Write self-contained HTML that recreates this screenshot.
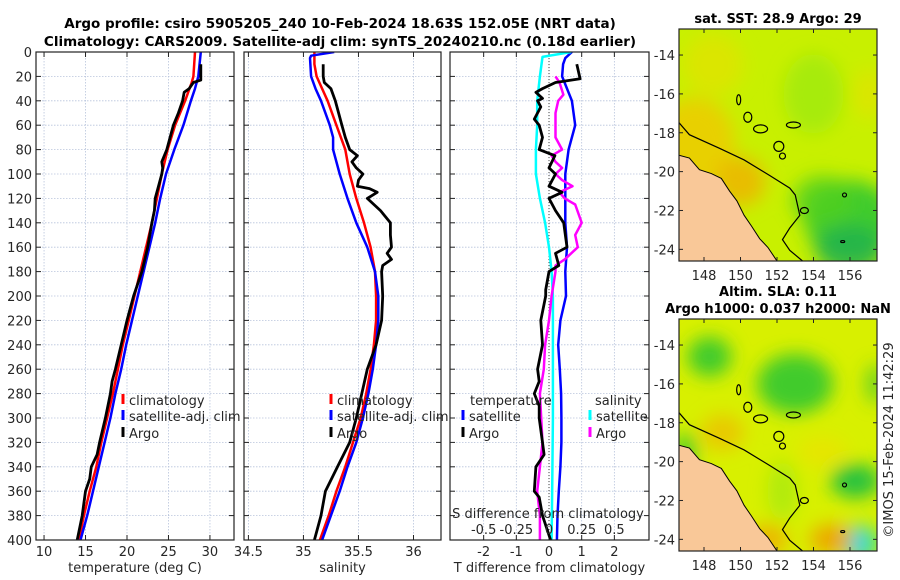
<!DOCTYPE html>
<html><head><meta charset="utf-8">
<style>
html,body{margin:0;padding:0;background:#fff;}
svg{display:block;font-family:"DejaVu Sans","Liberation Sans",sans-serif;}
</style></head>
<body>
<svg id="fig" width="900" height="580" viewBox="0 0 900 580" xmlns="http://www.w3.org/2000/svg">
<defs>
<filter id="blur" x="-50%" y="-50%" width="200%" height="200%"><feGaussianBlur stdDeviation="9"/></filter>
<clipPath id="clipM1"><rect x="679" y="29" width="198" height="232"/></clipPath>
<clipPath id="clipM2"><rect x="679" y="319" width="198" height="232"/></clipPath>
<clipPath id="clipP1"><rect x="36" y="52" width="198" height="488"/></clipPath>
<clipPath id="clipP2"><rect x="244" y="52" width="197" height="488"/></clipPath>
<clipPath id="clipP3"><rect x="450" y="52" width="199" height="488"/></clipPath>
</defs>
<text x="340" y="28" text-anchor="middle" font-size="13.5" font-weight="bold">Argo profile: csiro 5905205_240 10-Feb-2024 18.63S 152.05E (NRT data)</text>
<text x="340" y="46" text-anchor="middle" font-size="13.5" font-weight="bold">Climatology: CARS2009. Satellite-adj clim: synTS_20240210.nc (0.18d earlier)</text>
<g id="root"></g>
</svg>
<script>
// ---------- data ----------
const depthTicks=[0,20,40,60,80,100,120,140,160,180,200,220,240,260,280,300,320,340,360,380,400];
const tempTicks=[10,15,20,25,30];
const salTicks=[34.5,35,35.5,36];
const salTickLabels=["34.5","35","35.5","36"];
const tdiffTicks=[-2,-1,0,1,2];
const sdiffTicks=[-0.5,-0.25,0,0.25,0.5];
const sdiffTickLabels=["-0.5","-0.25","0","0.25","0.5"];

const climTDepth=[0,10,20,25,40,60,80,100,120,140,160,180,200,220,240,260,280,300,320,340,360,380,400];
const climTValue=[28.2,28.1,28.0,27.8,27.0,25.8,24.9,24.2,23.6,23.0,22.3,21.6,20.9,20.2,19.5,18.9,18.3,17.6,16.9,16.3,15.5,14.8,14.2];
const satTDepth=[0,20,30,40,60,80,100,120,140,160,180,200,220,240,260,280,300,320,340,360,380,400];
const satTValue=[28.9,28.6,28.2,27.7,26.8,25.7,24.7,24.0,23.4,22.7,22.0,21.3,20.6,19.9,19.3,18.6,18.0,17.3,16.6,15.9,15.2,14.4];
const argoTDepth=[10,20,23,25,30,33,40,50,60,70,80,90,95,100,110,120,130,140,160,180,200,220,240,260,270,280,300,320,330,340,350,360,380,400];
const argoTValue=[28.9,28.9,28.9,28.0,27.5,26.9,26.7,26.2,25.6,25.2,24.8,24.2,24.3,24.2,23.8,23.4,23.3,23.0,22.5,21.8,20.8,20.0,19.3,18.6,18.2,18.0,17.4,16.7,16.4,15.7,15.5,15.0,14.6,14.0];

const climSDepth=[0,10,20,30,40,60,80,100,120,140,160,180,200,220,240,260,280,300,320,340,360,380,400];
const climSValue=[35.10,35.10,35.12,35.17,35.22,35.30,35.38,35.42,35.48,35.55,35.61,35.65,35.66,35.66,35.64,35.61,35.57,35.52,35.45,35.38,35.30,35.23,35.15];
const satSDepth=[0,3,5,20,30,40,60,70,80,100,120,140,160,180,200,220,240,260,280,300,320,340,360,380,400];
const satSValue=[35.28,35.07,35.06,35.07,35.11,35.16,35.24,35.27,35.27,35.33,35.40,35.48,35.58,35.65,35.68,35.68,35.66,35.63,35.59,35.54,35.48,35.40,35.33,35.25,35.17];
const argoSDepth=[10,20,25,30,40,50,60,70,80,85,90,95,100,105,110,112,115,120,130,140,150,160,165,170,175,180,200,220,240,260,280,300,320,340,360,380,400];
const argoSValue=[35.18,35.18,35.19,35.25,35.29,35.32,35.35,35.38,35.42,35.49,35.44,35.48,35.54,35.50,35.49,35.60,35.67,35.58,35.70,35.79,35.79,35.80,35.76,35.80,35.72,35.71,35.72,35.71,35.66,35.58,35.53,35.48,35.42,35.31,35.20,35.16,35.10];

const satTdDepth=[0,5,10,20,40,60,80,100,120,140,160,180,200,220,240,260,280,300,320,340,360,380,400];
const satTdValue=[0.7,0.5,0.43,0.4,0.7,0.8,0.6,0.5,0.5,0.5,0.55,0.5,0.52,0.35,0.28,0.33,0.37,0.38,0.38,0.35,0.3,0.26,0.24];
const argoTdDepth=[10,22,25,30,33,38,40,45,55,60,70,80,85,95,100,110,115,120,130,140,160,165,175,180,195,200,220,240,260,270,280,290,300,320,330,340,360,365,380,400];
const argoTdValue=[0.85,0.95,0.2,-0.2,-0.4,-0.2,-0.35,-0.25,-0.45,-0.3,-0.2,-0.3,0.18,0.0,0.2,0.0,0.4,0.0,0.2,0.45,0.55,0.2,0.3,0.0,-0.1,-0.1,-0.25,-0.2,-0.35,-0.3,-0.45,-0.3,-0.3,-0.2,-0.15,-0.4,-0.45,-0.3,-0.2,0.05];
const satSdDepth=[0,4,20,40,60,80,100,120,140,160,180,200,250,300,350,400];
const satSdValue=[0.17,-0.05,-0.07,-0.09,-0.09,-0.1,-0.1,-0.07,-0.03,0.0,0.02,0.03,0.03,0.03,0.025,0.02];
const argoSdDepth=[20,25,35,40,50,60,70,80,85,90,95,100,105,110,115,120,125,140,150,160,170,175,180,200,220,240,260,280,300,320,340,360,380,400];
const argoSdValue=[0.05,0.08,0.11,0.07,0.05,0.05,0.05,0.1,0.02,0.05,0.1,0.05,0.1,0.18,0.08,0.12,0.2,0.25,0.2,0.22,0.12,0.05,0.05,0.02,0.0,-0.03,-0.04,-0.07,-0.06,-0.05,-0.07,-0.09,-0.07,-0.07];

const lonTicks=[148,150,152,154,156];
const latTicks=[-14,-16,-18,-20,-22,-24];

// ---------- helpers ----------
const NS="http://www.w3.org/2000/svg";
const root=document.getElementById('root');
function mk(tag,attrs,parent){const e=document.createElementNS(NS,tag);for(const k in attrs)e.setAttribute(k,attrs[k]);(parent||root).appendChild(e);return e;}
const Y0=52,Y1=540;
const yD=d=>Y0+d/400*(Y1-Y0);
function lin(d0,d1,r0,r1){return v=>r0+(v-d0)/(d1-d0)*(r1-r0);}
const xT=lin(9.03,32.9,36,234);
const xS=lin(34.46,36.25,244,441);
const xTd=lin(-3.03,3.06,450,649);
const xSd=v=>xTd(v*4);

function panel(name,x0,x1,xs,ticks,labels,xlabel,clip,yLabels){
  const g=mk('g',{});
  
  
  ticks.forEach(t=>{const l=mk('line',{x1:xs(t),x2:xs(t),y1:Y0,y2:Y1,stroke:'#b8c4dc','stroke-width':0.8,'stroke-dasharray':'1.5,1.5'},g);
    });
  depthTicks.forEach(d=>{const l=mk('line',{x1:x0,x2:x1,y1:yD(d),y2:yD(d),stroke:'#b8c4dc','stroke-width':0.8,'stroke-dasharray':'1.5,1.5'},g);
    
    mk('line',{x1:x0,x2:x0+5,y1:yD(d),y2:yD(d),stroke:'#222'},g);mk('line',{x1:x1-5,x2:x1,y1:yD(d),y2:yD(d),stroke:'#222'},g);});
  ticks.forEach((t,i)=>{mk('line',{x1:xs(t),x2:xs(t),y1:Y1,y2:Y1-5,stroke:'#222'},g);mk('line',{x1:xs(t),x2:xs(t),y1:Y0,y2:Y0+5,stroke:'#222'},g);
    const tx=mk('text',{x:xs(t),y:Y1+16,'text-anchor':'middle','font-size':13,fill:'#262626'},g);tx.textContent=labels[i];
    });
  const xl=mk('text',{x:(x0+x1)/2,y:Y1+32,'text-anchor':'middle','font-size':13,fill:'#262626'},g);xl.textContent=xlabel;
  
  if(yLabels){depthTicks.forEach(d=>{const t=mk('text',{x:x0-4,y:yD(d)+5,'text-anchor':'end','font-size':13,fill:'#262626'},g);t.textContent=d;
    });}
  return g;
}
function series(g,name,xs,vals,deps,color,w,clip){
  const pts=vals.map((v,i)=>xs(v).toFixed(1)+','+yD(deps[i]).toFixed(1)).join(' ');
  const p=mk('polyline',{points:pts,fill:'none',stroke:color,'stroke-width':w,'stroke-linejoin':'round','clip-path':'url(#'+clip+')'},g);
  
  
  return p;
}
function frame(g,x0,x1){const r=mk('rect',{x:x0,y:Y0,width:x1-x0,height:Y1-Y0,fill:'none',stroke:'#222','stroke-width':1.2},g);
  }
function legendEntry(g,name,x,y,color,label){
  const m=mk('rect',{x:x-1.5,y:y-11,width:3,height:10,fill:color},g);
  
  const t=mk('text',{x:x+6,y:y,'font-size':13,fill:'#262626'},g);t.textContent=label;
  
}

const g1=panel('temperature-panel',36,234,xT,tempTicks,tempTicks.map(String),'temperature (deg C)','clipP1',true);
series(g1,'temperature-climatology-line',xT,climTValue,climTDepth,'#f00',2.5,'clipP1');
series(g1,'temperature-satellite-line',xT,satTValue,satTDepth,'#00f',2.5,'clipP1');
series(g1,'temperature-argo-line',xT,argoTValue,argoTDepth,'#000',2.8,'clipP1');
frame(g1,36,234);
legendEntry(g1,'legend-climatology',123,405,'#f00','climatology');
legendEntry(g1,'legend-satellite-adj',123,421,'#00f','satellite-adj. clim');
legendEntry(g1,'legend-argo',123,438,'#000','Argo');

const g2=panel('salinity-panel',244,441,xS,salTicks,salTickLabels,'salinity','clipP2',false);
series(g2,'salinity-climatology-line',xS,climSValue,climSDepth,'#f00',2.5,'clipP2');
series(g2,'salinity-satellite-line',xS,satSValue,satSDepth,'#00f',2.5,'clipP2');
series(g2,'salinity-argo-line',xS,argoSValue,argoSDepth,'#000',2.8,'clipP2');
frame(g2,244,441);
legendEntry(g2,'legend-climatology-2',331,405,'#f00','climatology');
legendEntry(g2,'legend-satellite-adj-2',331,421,'#00f','satellite-adj. clim');
legendEntry(g2,'legend-argo-2',331,438,'#000','Argo');

const g3=panel('difference-panel',450,649,xTd,tdiffTicks,tdiffTicks.map(String),'T difference from climatology','clipP3',false);
const zl=mk('line',{x1:xTd(0),x2:xTd(0),y1:Y0,y2:Y1,stroke:'#444','stroke-width':1,'stroke-dasharray':'1,2'},g3);

series(g3,'tdiff-satellite-line',xTd,satTdValue,satTdDepth,'#00f',2.5,'clipP3');
series(g3,'sdiff-satellite-line',xSd,satSdValue,satSdDepth,'#0ff',2.5,'clipP3');
series(g3,'sdiff-argo-line',xSd,argoSdValue,argoSdDepth,'#f0f',2.5,'clipP3');
series(g3,'tdiff-argo-line',xTd,argoTdValue,argoTdDepth,'#000',2.8,'clipP3');
frame(g3,450,649);
{const t=mk('text',{x:470,y:405,'font-size':13,fill:'#262626'},g3);t.textContent='temperature';
 const s=mk('text',{x:595,y:405,'font-size':13,fill:'#262626'},g3);s.textContent='salinity';}
legendEntry(g3,'legend-tdiff-satellite',463,421,'#00f','satellite');
legendEntry(g3,'legend-tdiff-argo',463,438,'#000','Argo');
legendEntry(g3,'legend-sdiff-satellite',590,421,'#0ff','satellite');
legendEntry(g3,'legend-sdiff-argo',590,438,'#f0f','Argo');
{const t=mk('text',{x:548,y:518,'text-anchor':'middle','font-size':13,fill:'#262626'},g3);t.textContent='S difference from climatology';
 
 sdiffTicks.forEach((v,i)=>{const l=mk('text',{x:xSd(v),y:534,'text-anchor':'middle','font-size':13,fill:'#262626'},g3);l.textContent=sdiffTickLabels[i];
  });}

// ---------- maps ----------
function mapPanel(name,top,clip,blobs,base,titleLines){
  const x0=679,x1=877,y0=top,y1=top+232;
  const mx=lin(146.63,157.48,x0,x1);
  const my=lin(-12.66,-24.6,y0,y1);
  const g=mk('g',{});
  
  
  const c=mk('g',{'clip-path':'url(#'+clip+')'},g);
  mk('rect',{x:x0,y:y0,width:x1-x0,height:y1-y0,fill:base},c);
  const bg=mk('g',{filter:'url(#blur)'},c);
  blobs.forEach(b=>mk('ellipse',{cx:mx(b[0]),cy:my(b[1]),rx:b[2],ry:b[3],fill:b[4],opacity:b[5]},bg));
  const coast=[[146.6,-19.15],[147.2,-19.3],[147.75,-19.9],[148.4,-20.1],[148.95,-20.35],[149.4,-21.0],[149.8,-21.5],[150.2,-22.25],[150.6,-22.8],[151.05,-23.45],[151.5,-23.9],[152.0,-24.6]];
  const land=coast.map(p=>mx(p[0])+','+my(p[1])).join(' ')+' '+x0+','+y1;
  const lp=mk('polygon',{points:land,fill:'#f9c898',stroke:'#000','stroke-width':1},c);
  
  const reef=[[146.6,-17.45],[147.2,-18.1],[148.85,-18.8],[150.2,-19.4],[151.6,-20.2],[152.7,-20.85],[153.0,-21.2],[153.25,-22.25],[152.7,-22.9],[152.3,-23.5],[152.7,-24.05],[153.4,-24.6]];
  const rl=mk('polyline',{points:reef.map(p=>mx(p[0])+','+my(p[1])).join(' '),fill:'none',stroke:'#000','stroke-width':1.2},c);
  
  [[149.9,-16.3,2,5],[150.4,-17.2,4,5],[151.1,-17.8,7,4],[152.9,-17.6,7,3],[152.1,-18.7,5,5],[152.3,-19.2,3,3],[153.5,-22.0,4,3],[155.7,-21.2,2,2],[155.6,-23.6,2,1]].forEach(e=>{
    const el=mk('ellipse',{cx:mx(e[0]),cy:my(e[1]),rx:e[2],ry:e[3],fill:'none',stroke:'#000','stroke-width':1.2},c);
    });
  mk('rect',{x:x0,y:y0,width:x1-x0,height:y1-y0,fill:'none',stroke:'#222','stroke-width':1.2},g);
  lonTicks.forEach(l=>{mk('line',{x1:mx(l),x2:mx(l),y1:y1,y2:y1-4,stroke:'#222'},g);mk('line',{x1:mx(l),x2:mx(l),y1:y0,y2:y0+4,stroke:'#222'},g);
    const t=mk('text',{x:mx(l),y:y1+19,'text-anchor':'middle','font-size':13,fill:'#262626'},g);t.textContent=l;
    });
  latTicks.forEach(l=>{mk('line',{x1:x0,x2:x0+4,y1:my(l),y2:my(l),stroke:'#222'},g);mk('line',{x1:x1,x2:x1-4,y1:my(l),y2:my(l),stroke:'#222'},g);
    const t=mk('text',{x:x0-4,y:my(l)+5,'text-anchor':'end','font-size':13,fill:'#262626'},g);t.textContent=l;
    });
  titleLines.forEach((s,i)=>{const t=mk('text',{x:778,y:top-(titleLines.length-i)*17+11,'text-anchor':'middle','font-size':13,'font-weight':'bold'},g);t.textContent=s;
    });
}
mapPanel('sst-map',29,'clipM1',[
  [147.5,-18.5,40,45,'#f0c800',0.8],[148.5,-14.5,30,30,'#e8e000',0.6],[150,-20.5,25,25,'#f0b000',0.8],
  [154,-16,30,40,'#98e810',0.7],[156,-22.5,45,40,'#30c830',0.9],[156,-24,35,25,'#20b050',0.8],[154.5,-21.5,30,25,'#50d020',0.8],[157,-16,15,25,'#e8e000',0.6]
],'#c8f000',['sat. SST: 28.9 Argo: 29']);
mapPanel('sla-map',319,'clipM2',[
  [148.3,-14.6,22,20,'#30c830',0.9],[153,-16,38,30,'#30c830',0.9],[157.4,-16,10,20,'#40c830',0.7],
  [156.3,-21,25,17,'#20c040',0.95],[156.5,-24.2,16,18,'#00d8e0',1],[149,-18.5,22,18,'#f0b800',0.7],[155,-24,22,15,'#f0a000',0.9],[151.5,-24,20,15,'#f0a800',0.8],
  [147,-19.5,10,20,'#30c830',0.9],[154.5,-19.5,25,15,'#f0e000',0.6],[152.3,-21.5,15,30,'#a0e810',0.7]
],'#d8f000',['Altim. SLA: 0.11','Argo h1000: 0.037 h2000: NaN']);

{const t=mk('text',{x:0,y:0,'text-anchor':'middle','font-size':13,fill:'#262626',transform:'translate(893,440) rotate(-90)'});t.textContent='©IMOS 15-Feb-2024 11:42:29';
 }
</script>
</body></html>
